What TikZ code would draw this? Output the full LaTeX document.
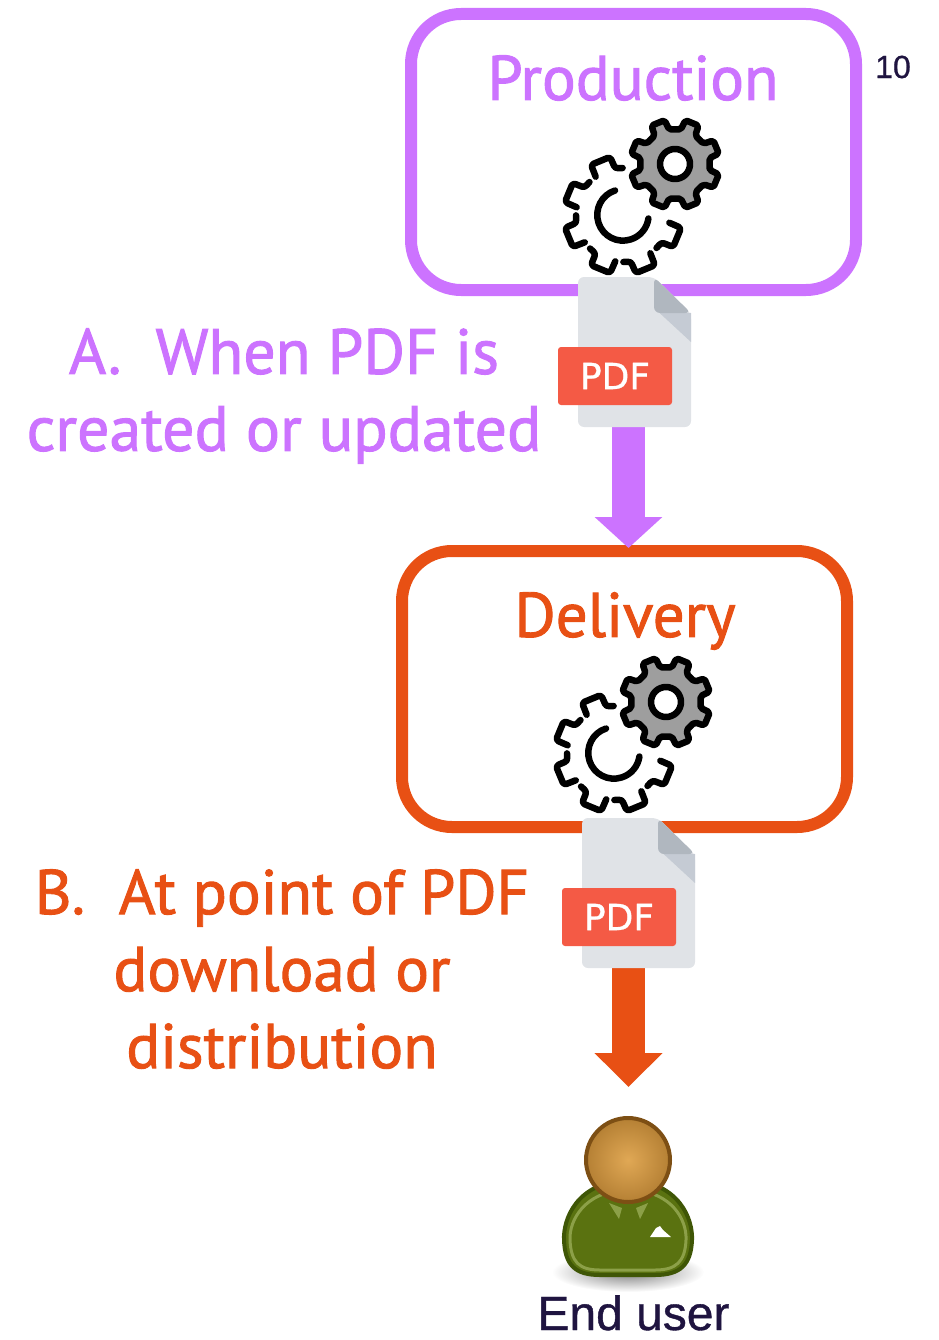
\documentclass[tikz,border=0pt]{standalone}
\usepackage{fontspec}
\setmainfont[FakeBold=1.5]{PT Sans}
\newfontfamily\labelfont[FakeBold=0.8]{Liberation Sans}
\newfontfamily\tagfont[FakeBold=0.8]{DejaVu Sans}
\usetikzlibrary{arrows.meta,calc}
\definecolor{prodcolor}{HTML}{CC73FF}
\definecolor{delcolor}{HTML}{E85014}
\definecolor{usercolor}{HTML}{1F1440}
\definecolor{sheetcolor}{HTML}{E0E3E7}
\definecolor{foldcolor}{HTML}{B0B7BF}
\definecolor{creasecolor}{HTML}{C5CBD4}
\definecolor{tagcolor}{HTML}{F45A45}
\definecolor{jacketcolor}{HTML}{5A7210}
\definecolor{jacketedge}{HTML}{3F5606}
\definecolor{jacketrim}{HTML}{8CA048}
\definecolor{headedge}{HTML}{7D4F14}
\definecolor{headrim}{HTML}{B58034}
\definecolor{headcore}{HTML}{E0A855}
\tikzset{
  stagebox/.style={draw, line width=12pt, rounded corners=50pt, outer sep=0pt, minimum width=445pt, minimum height=276pt},
  stagetext/.style={font=\fontsize{63}{77}\selectfont, align=center, inner sep=0pt},
  docbox/.style={inner sep=0pt, outer sep=0pt, minimum width=113pt, minimum height=150pt},
  flow/.style={line width=33pt, -{Triangle[width=66pt,length=#1]}},
  gearline/.style={draw=black, line width=6.5pt, line join=round, line cap=round},
  pics/gearpair/.style={code={
    \foreach \a in {112.5,157.5,202.5,247.5,292.5,337.5}
      \draw[gearline, rounded corners=3pt] ({\a-22}:47) arc[start angle=\a-22, end angle=\a-13, radius=47] -- ({\a-10}:59.5) -- ({\a+10}:59.5) -- ({\a+13}:47);
    \draw[gearline] (-8,24.5) arc[start angle=108, end angle=352, radius=25.7];
    \draw[gearline, fill=black!38, rounded corners=2pt] ($(52,51)+(350.5:35)$) \foreach \a in {22.5,67.5,...,337.5} { -- ($(52,51)+({\a-13}:35)$) -- ($(52,51)+({\a-9}:45)$) -- ($(52,51)+({\a+9}:45)$) -- ($(52,51)+({\a+13}:35)$) } -- cycle;
    \draw[gearline, fill=white] (52,51) circle (15);
  }},
  pics/pdffile/.style={code={
    \fill[sheetcolor, rounded corners=6pt] (-56.5,-75) -- (-56.5,75) -- (19.5,75) -- (56.5,39) -- (56.5,-75) -- cycle;
    \fill[creasecolor] (24,40) -- (56.5,39) -- (56.5,10) -- cycle;
    \fill[foldcolor, rounded corners=6pt] (19.5,75) -- (19.5,39) -- (40,39) -- (56.5,39) -- cycle;
    \node[fill=tagcolor, rounded corners=3pt, minimum width=114pt, minimum height=58pt, inner sep=0pt, text=white, font=\tagfont\fontsize{36}{36}\selectfont] (pdftag) at (-19.5,-24) {PDF};
  }}
}
\begin{document}
\begin{tikzpicture}[x=1pt, y=1pt]
\useasboundingbox (0,0) rectangle (938,-1340);
\node[stagebox, draw=prodcolor] (production) at (633.5,-152) {};
\node[stagebox, draw=delcolor] (delivery) at (624.5,-689) {};
\node[stagetext, text=prodcolor] (prodlabel) at (633,-78) {Production};
\node[stagetext, text=delcolor] (dellabel) at (625,-621) {Delivery};
\node[font=\labelfont\fontsize{32}{32}\selectfont, text=usercolor, inner sep=0pt] (pagenum) at (893,-67) {10};
\pic at (623,-215) {gearpair};
\pic at (614,-753) {gearpair};
\coordinate (usercol) at (628.5,-1087);
\node[docbox] (pdfa) at (634.5,-352) {};
\node[docbox] (pdfb) at (638.5,-893) {};
\draw[flow=31pt, draw=prodcolor, fill=prodcolor, shorten >=3pt] (pdfa.south -| usercol) -- (delivery.north -| usercol);
\draw[flow=34pt, draw=delcolor, fill=delcolor] (pdfb.south -| usercol) -- (usercol);
\pic at (pdfa) {pdffile};
\pic at (pdfb) {pdffile};
\node[stagetext, text=prodcolor, font=\fontsize{63.8}{77}\selectfont] (whena) at (284,-396) {A.\ \ When PDF is\\created or updated};
\node[stagetext, text=delcolor] (whenb) at (282,-969) {B.\ \ At point of PDF\\download or\\distribution};
\shade[inner color=black!50, outer color=white] (628,-1272) ellipse (76 and 20);
\draw[draw=jacketedge, line width=4pt, fill=jacketcolor] (628,-1180) .. controls (680,-1182) and (693,-1220) .. (692,-1240) .. controls (691,-1265) and (680,-1275) .. (655,-1275) -- (600,-1275) .. controls (575,-1275) and (565,-1265) .. (564,-1240) .. controls (563,-1220) and (576,-1182) .. (628,-1180) -- cycle;
\draw[draw=jacketrim, line width=3pt] (632,-1190) .. controls (672,-1192) and (687,-1220) .. (686,-1240) .. controls (685,-1262) and (676,-1270) .. (655,-1270) -- (600,-1270) .. controls (579,-1270) and (571,-1262) .. (570,-1240) .. controls (569,-1220) and (585,-1192) .. (624,-1190);
\fill[jacketrim] (609,-1203) -- (622,-1208) -- (619,-1219) -- cycle;
\fill[jacketrim] (648,-1203) -- (636,-1208) -- (640,-1219) -- cycle;
\fill[white] (650,-1237) -- (656,-1228) -- (660,-1226) -- (663,-1230) -- (671,-1237) -- cycle;
\shade[inner color=headcore, outer color=headrim, draw=headedge, line width=4pt] (628,-1160) circle (42);
\node[font=\labelfont\fontsize{48}{48}\selectfont, text=usercolor, inner sep=0pt, anchor=base] (enduser) at (633.5,-1330) {End user};
\end{tikzpicture}
\end{document}
